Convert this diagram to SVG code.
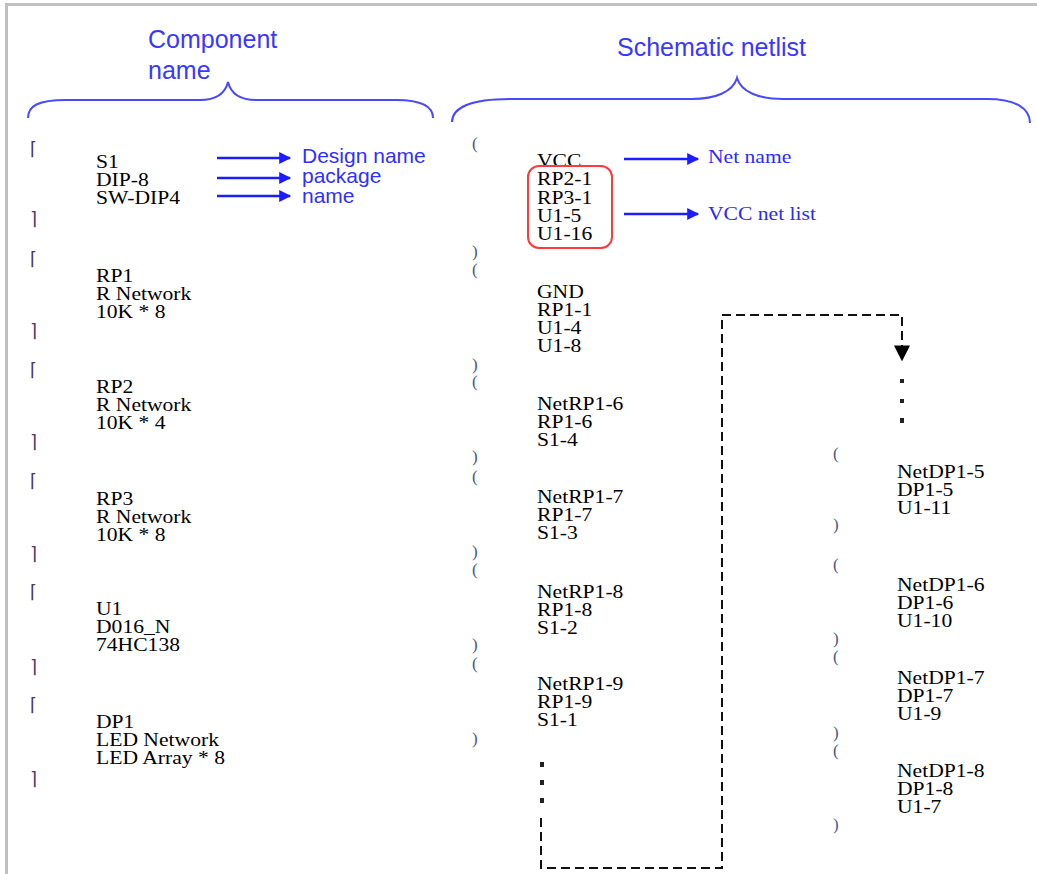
<svg xmlns="http://www.w3.org/2000/svg" width="1037" height="874" viewBox="0 0 1037 874">
<defs>
<style>
.t text{font-family:"Liberation Serif","Times New Roman",serif;font-size:18px;fill:#000}
.br{font-family:"DejaVu Sans",sans-serif;font-size:18px;fill:#4b3b6b}
.pr{font-family:"Liberation Serif",serif;font-size:17px;fill:#4a5a7a}
.title{font-family:"Liberation Sans",Arial,sans-serif;font-size:25px;fill:#3838ff}
.ann{font-family:"Liberation Sans",Arial,sans-serif;font-size:21px;fill:#3030ff}
.annS text{font-family:"Liberation Serif",serif;font-size:18px;fill:#2a2aff}
.brace{fill:none;stroke:#4848ff;stroke-width:2}
.arr{fill:none;stroke:#1c1cff;stroke-width:2.5;marker-end:url(#ah)}
.dash{fill:none;stroke:#111;stroke-width:2;stroke-dasharray:9 5}
.dot{fill:#222}
</style>
<marker id="ah" viewBox="0 0 10 10" refX="9" refY="5" markerWidth="13" markerHeight="12" orient="auto" markerUnits="userSpaceOnUse"><path d="M0,0 L10,5 L0,10 z" fill="#1c1cff"/></marker>
<marker id="dh" viewBox="0 0 10 10" refX="1" refY="5" markerWidth="16" markerHeight="16" orient="auto" markerUnits="userSpaceOnUse"><path d="M0,0 L10,5 L0,10 z" fill="#000"/></marker>
</defs>
<rect x="0" y="0" width="1037" height="874" fill="#fff"/>
<rect x="6.5" y="4.5" width="1100" height="1000" fill="none" stroke="#c0c0c0" stroke-width="3"/>

<g id="titles">
<text class="title" x="148" y="48">Component</text>
<text class="title" x="148" y="79">name</text>
<text class="title" x="617" y="56">Schematic netlist</text>
<path class="brace" d="M28,118 C28,106 38,100 66,100 H200 C215,100 225,94 228,82 C231,94 241,100 256,100 H396 C421,100 433,106 433,118"/>
<path class="brace" d="M452,122 C452,108 470,99 510,99 H692 C715,99 733,92 737,78 C741,92 759,99 783,99 H987 C1015,99 1030,108 1030,123"/>
</g>

<g id="comp-S1">
<text class="br" x="30" y="155">⌈</text>
<g class="t" transform="translate(96,168) scale(1.2,1)"><text y="0">S1</text><text y="18">DIP-8</text><text y="36">SW-DIP4</text></g>
<text class="br" x="30" y="225">⌉</text>
</g>
<g id="comp-RP1">
<text class="br" x="30" y="265">⌈</text>
<g class="t" transform="translate(96,282) scale(1.2,1)"><text y="0">RP1</text><text y="18">R Network</text><text y="36">10K * 8</text></g>
<text class="br" x="30" y="337">⌉</text>
</g>
<g id="comp-RP2">
<text class="br" x="30" y="376">⌈</text>
<g class="t" transform="translate(96,393) scale(1.2,1)"><text y="0">RP2</text><text y="18">R Network</text><text y="36">10K * 4</text></g>
<text class="br" x="30" y="448">⌉</text>
</g>
<g id="comp-RP3">
<text class="br" x="30" y="487">⌈</text>
<g class="t" transform="translate(96,505) scale(1.2,1)"><text y="0">RP3</text><text y="18">R Network</text><text y="36">10K * 8</text></g>
<text class="br" x="30" y="560">⌉</text>
</g>
<g id="comp-U1">
<text class="br" x="30" y="598">⌈</text>
<g class="t" transform="translate(96,615) scale(1.2,1)"><text y="0">U1</text><text y="18">D016_N</text><text y="36">74HC138</text></g>
<text class="br" x="30" y="673">⌉</text>
</g>
<g id="comp-DP1">
<text class="br" x="30" y="711">⌈</text>
<g class="t" transform="translate(96,728) scale(1.2,1)"><text y="0">DP1</text><text y="18">LED Network</text><text y="36">LED Array * 8</text></g>
<text class="br" x="30" y="785">⌉</text>
</g>

<g id="ann-left">
<text class="ann" x="302" y="163">Design name</text>
<text class="ann" x="302" y="183">package</text>
<text class="ann" x="302" y="203">name</text>
</g>

<g id="net-VCC">
<text class="pr" x="472" y="149">(</text>
<g class="t" transform="translate(537,167) scale(1.2,1)"><text y="0">VCC</text><text y="18.3">RP2-1</text><text y="36.6">RP3-1</text><text y="54.9">U1-5</text><text y="73.2">U1-16</text></g>
<rect x="528" y="166" width="84" height="82" rx="11" fill="none" stroke="#ff3a3a" stroke-width="2"/>
<text class="pr" x="472" y="257">)</text>
</g>
<g id="net-GND">
<text class="pr" x="472" y="275">(</text>
<g class="t" transform="translate(537,298) scale(1.2,1)"><text y="0">GND</text><text y="18">RP1-1</text><text y="36">U1-4</text><text y="54">U1-8</text></g>
<text class="pr" x="472" y="370">)</text>
</g>
<g id="net-RP1-6">
<text class="pr" x="472" y="387">(</text>
<g class="t" transform="translate(537,410) scale(1.2,1)"><text y="0">NetRP1-6</text><text y="18">RP1-6</text><text y="36">S1-4</text></g>
<text class="pr" x="472" y="462">)</text>
</g>
<g id="net-RP1-7">
<text class="pr" x="472" y="482">(</text>
<g class="t" transform="translate(537,503) scale(1.2,1)"><text y="0">NetRP1-7</text><text y="18">RP1-7</text><text y="36">S1-3</text></g>
<text class="pr" x="472" y="557">)</text>
</g>
<g id="net-RP1-8">
<text class="pr" x="472" y="575">(</text>
<g class="t" transform="translate(537,598) scale(1.2,1)"><text y="0">NetRP1-8</text><text y="18">RP1-8</text><text y="36">S1-2</text></g>
<text class="pr" x="472" y="650">)</text>
</g>
<g id="net-RP1-9">
<text class="pr" x="472" y="669">(</text>
<g class="t" transform="translate(537,690) scale(1.2,1)"><text y="0">NetRP1-9</text><text y="18">RP1-9</text><text y="36">S1-1</text></g>
<text class="pr" x="472" y="744">)</text>
</g>
<g id="ellipsis-1">
<rect class="dot" x="540" y="762" width="4" height="5"/>
<rect class="dot" x="540" y="780" width="4" height="5"/>
<rect class="dot" x="540" y="798" width="4" height="5"/>
</g>

<g id="ellipsis-2">
<rect class="dot" x="900" y="379" width="4" height="4"/>
<rect class="dot" x="900" y="399" width="4" height="4"/>
<rect class="dot" x="900" y="418" width="4" height="5"/>
</g>
<g id="net-DP1-5">
<text class="pr" x="833" y="459">(</text>
<g class="t" transform="translate(897,478) scale(1.2,1)"><text y="0">NetDP1-5</text><text y="18">DP1-5</text><text y="36">U1-11</text></g>
<text class="pr" x="833" y="530">)</text>
</g>
<g id="net-DP1-6">
<text class="pr" x="833" y="570">(</text>
<g class="t" transform="translate(897,591) scale(1.2,1)"><text y="0">NetDP1-6</text><text y="18">DP1-6</text><text y="36">U1-10</text></g>
<text class="pr" x="833" y="644">)</text>
</g>
<g id="net-DP1-7">
<text class="pr" x="833" y="662">(</text>
<g class="t" transform="translate(897,684) scale(1.2,1)"><text y="0">NetDP1-7</text><text y="18">DP1-7</text><text y="36">U1-9</text></g>
<text class="pr" x="833" y="738">)</text>
</g>
<g id="net-DP1-8">
<text class="pr" x="833" y="756">(</text>
<g class="t" transform="translate(897,777) scale(1.2,1)"><text y="0">NetDP1-8</text><text y="18">DP1-8</text><text y="36">U1-7</text></g>
<text class="pr" x="833" y="830">)</text>
</g>

<g id="ann-right" class="annS">
<g transform="translate(708,163) scale(1.2,1)"><text>Net name</text></g>
<g transform="translate(708,220) scale(1.2,1)"><text>VCC net list</text></g>
</g>

<g id="connectors">
<line class="arr" x1="217" y1="158" x2="290" y2="158"/>
<line class="arr" x1="217" y1="178" x2="290" y2="178"/>
<line class="arr" x1="217" y1="196" x2="290" y2="196"/>
<line class="arr" x1="624" y1="159" x2="698" y2="159"/>
<line class="arr" x1="624" y1="214" x2="698" y2="214"/>
<path class="dash" d="M541,818 V868 H722 V315 H902 V347" marker-end="url(#dh)"/>
</g>
</svg>
